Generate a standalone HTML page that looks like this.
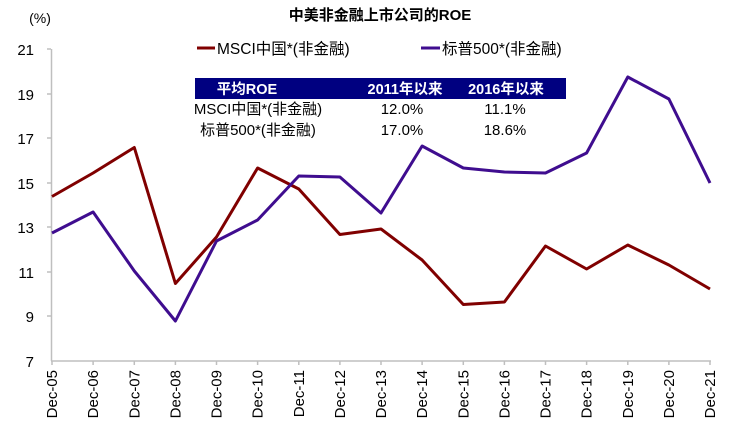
<!DOCTYPE html>
<html><head><meta charset="utf-8"><style>
body{margin:0;background:#fff}
svg{display:block;font-family:"Liberation Sans","Noto Sans CJK SC",sans-serif}
</style></head><body>
<svg width="730" height="434" viewBox="0 0 730 434" xmlns="http://www.w3.org/2000/svg">
<text x="380" y="20" text-anchor="middle" font-size="15" font-weight="bold" fill="#000">中美非金融上市公司的ROE</text>
<text x="40" y="23" text-anchor="middle" font-size="14">(%)</text>
<g font-size="15" text-anchor="end">
<text x="34" y="55">21</text><text x="34" y="100">19</text><text x="34" y="144">17</text><text x="34" y="189">15</text><text x="34" y="233">13</text><text x="34" y="278">11</text><text x="34" y="322">9</text><text x="34" y="367">7</text>
</g>
<g stroke="#bfbfbf" stroke-width="1.5" fill="none">
<line x1="51.5" y1="49" x2="51.5" y2="361"/>
<line x1="51" y1="361" x2="711" y2="361"/>
<path d="M47 49H51M47 94H51M47 138H51M47 183H51M47 227H51M47 272H51M47 316H51"/>
<path d="M52 361v4M93.1 361v4M134.3 361v4M175.4 361v4M216.5 361v4M257.6 361v4M298.8 361v4M339.9 361v4M381 361v4M422.1 361v4M463.3 361v4M504.4 361v4M545.5 361v4M586.6 361v4M627.8 361v4M668.9 361v4M710 361v4"/>
</g>
<g font-size="15" text-anchor="end">
<text transform="translate(57,370) rotate(-90)">Dec-05</text>
<text transform="translate(98.1,370) rotate(-90)">Dec-06</text>
<text transform="translate(139.3,370) rotate(-90)">Dec-07</text>
<text transform="translate(180.4,370) rotate(-90)">Dec-08</text>
<text transform="translate(221.5,370) rotate(-90)">Dec-09</text>
<text transform="translate(262.6,370) rotate(-90)">Dec-10</text>
<text transform="translate(303.8,370) rotate(-90)">Dec-11</text>
<text transform="translate(344.9,370) rotate(-90)">Dec-12</text>
<text transform="translate(386,370) rotate(-90)">Dec-13</text>
<text transform="translate(427.1,370) rotate(-90)">Dec-14</text>
<text transform="translate(468.3,370) rotate(-90)">Dec-15</text>
<text transform="translate(509.4,370) rotate(-90)">Dec-16</text>
<text transform="translate(550.5,370) rotate(-90)">Dec-17</text>
<text transform="translate(591.6,370) rotate(-90)">Dec-18</text>
<text transform="translate(632.8,370) rotate(-90)">Dec-19</text>
<text transform="translate(673.9,370) rotate(-90)">Dec-20</text>
<text transform="translate(715,370) rotate(-90)">Dec-21</text>
</g>
<polyline fill="none" stroke="#800000" stroke-width="3" stroke-linejoin="round" points="52,196.5 93.1,173 134.3,147.5 175.4,283.5 216.5,237 257.6,168 298.8,189 339.9,234.5 381,229 422.1,260 463.3,304.5 504.4,302 545.5,246 586.6,269 627.8,245 668.9,265 710,289"/>
<polyline fill="none" stroke="#3f0d8f" stroke-width="3" stroke-linejoin="round" points="52,233 93.1,212 134.3,271 175.4,321 216.5,241 257.6,220 298.8,176 339.9,177 381,213 422.1,146 463.3,168 504.4,172 545.5,173 586.6,153 627.8,77 668.9,99 710,183"/>
<line x1="197" y1="48" x2="215" y2="48" stroke="#800000" stroke-width="3"/>
<text x="217" y="54" font-size="15.5">MSCI中国*(非金融)</text>
<line x1="421" y1="48" x2="440" y2="48" stroke="#3f0d8f" stroke-width="3"/>
<text x="442" y="54" font-size="15.5">标普500*(非金融)</text>
<rect x="195" y="78" width="371" height="21" fill="#000080"/>
<g font-size="14.5" font-weight="bold" fill="#fff" text-anchor="middle">
<text x="247" y="94">平均ROE</text><text x="405" y="94">2011年以来</text><text x="506" y="94">2016年以来</text>
</g>
<g font-size="15" text-anchor="middle">
<text x="258" y="114">MSCI中国*(非金融)</text><text x="402" y="114">12.0%</text><text x="505" y="114">11.1%</text>
<text x="258" y="135">标普500*(非金融)</text><text x="402" y="135">17.0%</text><text x="505" y="135">18.6%</text>
</g>
</svg>
</body></html>
